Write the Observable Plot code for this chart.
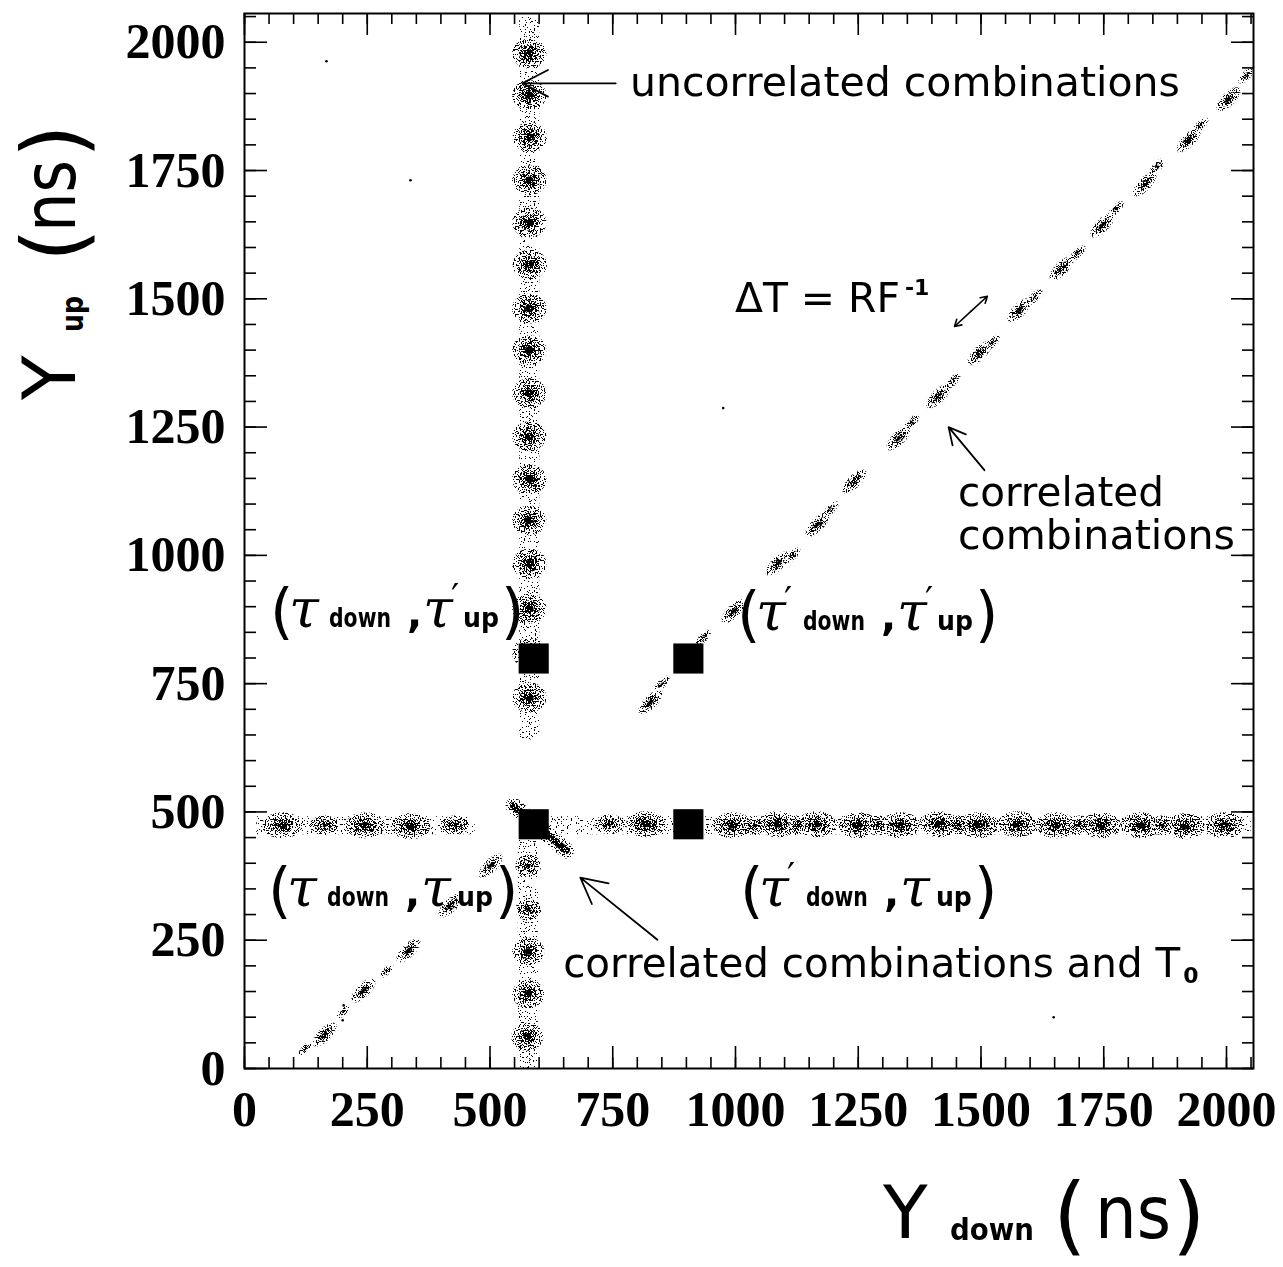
<!DOCTYPE html>
<html><head><meta charset="utf-8">
<script src="https://cdn.jsdelivr.net/npm/d3@7"></script>
<script src="https://cdn.jsdelivr.net/npm/@observablehq/plot@0.6"></script>
<style>body{margin:0;background:#fff}#chart{width:1283px;height:1267px}</style>
</head><body><div id="chart"></div>
<script>
// ---------------- data (ns) ----------------
const xMajor = [0, 250, 500, 750, 1000, 1250, 1500, 1750, 2000];
const yMajor = [0, 250, 500, 750, 1000, 1250, 1500, 1750, 2000];
// uncorrelated combinations: vertical band (tau_down fixed)
const vUpper = [[580,1978],[580,1897],[581,1815],[580,1731],[580,1649],[581,1567],[580,1481],[580,1400],[580,1316],[580,1232],[580,1148],[580,1068],[580,984],[580,896],[580,810],[580,723]];
const vLower = [[578,228],[576,62],[578,145]];
const vLowerWeak = [[578,395],[578,310]];
// uncorrelated combinations: horizontal band (tau_up fixed)
const hBand = [[77,474],[246,474],[338,472],[817,476],[994,474],[1086,476],[1165,476],[1250,474],[1336,474],[1415,476],[1495,474],[1574,476],[1653,474],[1745,474],[1825,474],[1916,472],[1996,474]];
const hBandWeak = [[163,474],[428,474],[743,476],[1040,474],[1125,474],[1290,474],[1455,474],[1700,474],[1870,474]];
// correlated combinations (diagonals)
const diagUpper = [[827,714],[906,806],[996,891],[1086,984],[1167,1060],[1242,1144],[1332,1228],[1413,1310],[1497,1394],[1578,1478],[1664,1559],[1747,1643],[1833,1723],[1923,1809],[2004,1889]];
const diagUpperWeak = [[850,750],[935,840],[1116,1000],[1194,1090],[1358,1259],[1442,1339],[1523,1415],[1609,1503],[1697,1589],[1775,1675],[1859,1758],[1947,1838],[2040,1935]];
const diagLower = [[163,66],[242,152],[334,230],[420,318],[501,395]];
const diagLowerWeak = [[124,39],[200,110],[290,190]];
// correlated combinations and T0 streak
const t0Streak = [{x1:548, y1:512, x2:655, y2:425}];
const strays = [[167,1963],[338,1731],[975,1287],[1648,100],[200,94],[202,123]];
// sparse background of the bands
const vBandSeg = [{x:580, y1:640, y2:2050},{x:577, y1:0, y2:450}];
const hBandSeg = [{y:474, x1:25, x2:470},{y:474, x1:600, x2:2050}];
// mean times (black squares)
const tauDown = 589, tauDownP = 904, tauUp = 476, tauUpP = 799;
const squares = [[tauDown,tauUpP],[tauDownP,tauUpP],[tauDown,tauUp],[tauDownP,tauUp]];
// arrows
const arrows = [
  {x1:756, y1:1920, x2:566, y2:1920},
  {x1:1507, y1:1166, x2:1434, y2:1250},
  {x1:841, y1:251, x2:684, y2:372}
];
const dblArrow = [{x1:1480, y1:1476, x2:1446, y2:1446},{x1:1480, y1:1476, x2:1513, y2:1505}];

// ---------------- layout ----------------
const W = 1283, H = 1267, mL = 244, mR = 30, mT = 13, mB = 199;
const xDomain = [0, 2055], yDomain = [0, 2056];
const fw = W - mL - mR, fh = H - mT - mB;
const xMinor = d3.range(0, 2051, 50), yMinor = d3.range(0, 2051, 50);

function ellipse(aspect, angleDeg) {
  const th = angleDeg * Math.PI / 180, c = Math.cos(th), s = Math.sin(th);
  return {draw(ctx, size) {
    const r = Math.sqrt(size / Math.PI), a = r * Math.sqrt(aspect), b = r / Math.sqrt(aspect);
    for (let i = 0; i < 32; i++) {
      const t = i / 32 * 2 * Math.PI, ex = a * Math.cos(t), ey = b * Math.sin(t);
      const x = ex * c - ey * s, y = ex * s + ey * c;
      i ? ctx.lineTo(x, y) : ctx.moveTo(x, y);
    }
    ctx.closePath();
  }};
}
const symV = ellipse(1.15, 0), symH = ellipse(1.5, 0), symD = ellipse(2.4, -45), symDc = ellipse(2.8, -45);
const P = {x: d => d[0], y: d => d[1], fill: "#000"};
function cluster(data, sym, symCore, rs) {
  return [
    Plot.dot(data, {...P, symbol: sym, r: rs[0], ariaDescription: "spk-sparse"}),
    Plot.dot(data, {...P, symbol: sym, r: rs[1], ariaDescription: "spk-medium"}),
    Plot.dot(data, {...P, symbol: symCore, r: rs[2], ariaDescription: "spk-dense"})
  ];
}

const plot = Plot.plot({
  width: W, height: H, marginLeft: mL, marginRight: mR, marginTop: mT, marginBottom: mB,
  x: {domain: xDomain}, y: {domain: yDomain},
  style: {background: "#fff", overflow: "visible"},
  marks: [
    // band backgrounds
    Plot.ruleX(vBandSeg, {x: "x", y1: "y1", y2: "y2", stroke: "#000", strokeWidth: 20, ariaDescription: "spk-band"}),
    Plot.ruleY(hBandSeg, {y: "y", x1: "x1", x2: "x2", stroke: "#000", strokeWidth: 18, ariaDescription: "spk-band"}),
    // clusters
    ...cluster(vUpper, symV, symV, [16, 9, 4]),
    ...cluster(vLower, symV, symV, [15, 8, 3.5]),
    ...cluster(vLowerWeak, symV, symV, [12, 6, 2]),
    ...cluster(hBand, symH, symH, [16, 9, 4]),
    ...cluster(hBandWeak, symH, symH, [12, 6, 2]),
    ...cluster(diagUpper, symD, symDc, [10, 6, 3]),
    ...cluster(diagUpperWeak, symD, symDc, [6.5, 3.5, 1.2]),
    ...cluster(diagLower, symD, symDc, [10, 6, 3]),
    ...cluster(diagLowerWeak, symD, symDc, [5.5, 3, 1]),
    Plot.link(t0Streak, {x1: "x1", y1: "y1", x2: "x2", y2: "y2", stroke: "#000", strokeWidth: 16, strokeLinecap: "round", ariaDescription: "spk-sparse"}),
    Plot.link(t0Streak, {x1: "x1", y1: "y1", x2: "x2", y2: "y2", stroke: "#000", strokeWidth: 7, strokeLinecap: "round", ariaDescription: "spk-dense"}),
    Plot.dot(strays, {...P, r: 1.3}),
    // mean-time squares
    Plot.dot(squares, {...P, symbol: "square", r: 17}),
    // arrows
    Plot.arrow(arrows, {x1: "x1", y1: "y1", x2: "x2", y2: "y2", stroke: "#000", strokeWidth: 1.8, headLength: 24, headAngle: 55}),
    Plot.arrow(dblArrow, {x1: "x1", y1: "y1", x2: "x2", y2: "y2", stroke: "#000", strokeWidth: 1.6, headLength: 12, headAngle: 60}),
    // inward ticks on all four sides
    Plot.ruleX(xMinor, {x: d => d, insetTop: fh - 11, stroke: "#000", strokeWidth: 1.6}),
    Plot.ruleX(xMinor, {x: d => d, insetBottom: fh - 11, stroke: "#000", strokeWidth: 1.6}),
    Plot.ruleX(xMajor, {x: d => d, insetTop: fh - 22, stroke: "#000", strokeWidth: 1.6}),
    Plot.ruleX(xMajor, {x: d => d, insetBottom: fh - 22, stroke: "#000", strokeWidth: 1.6}),
    Plot.ruleY(yMinor, {y: d => d, insetRight: fw - 12, stroke: "#000", strokeWidth: 1.6}),
    Plot.ruleY(yMinor, {y: d => d, insetLeft: fw - 11, stroke: "#000", strokeWidth: 1.6}),
    Plot.ruleY(yMajor, {y: d => d, insetRight: fw - 23, stroke: "#000", strokeWidth: 1.6}),
    Plot.ruleY(yMajor, {y: d => d, insetLeft: fw - 22, stroke: "#000", strokeWidth: 1.6}),
    Plot.frame({stroke: "#000", strokeWidth: 2}),
    // tick labels
    Plot.axisX(xMajor, {anchor: "bottom", tickSize: 0, tickPadding: 22, label: null, tickFormat: d => String(d), fontSize: 50, fontWeight: "bold", fontFamily: "'Liberation Serif', serif", fill: "#000"}),
    Plot.axisY(yMajor, {anchor: "left", tickSize: 0, tickPadding: 19, label: null, tickFormat: d => String(d), fontSize: 50, fontWeight: "bold", fontFamily: "'Liberation Serif', serif", fill: "#000"})
  ]
});
document.getElementById("chart").appendChild(plot);

// ---------------- speckle filters (scanned-stipple look) ----------------
const svg = d3.select(plot);
const defs = svg.insert("defs", ":first-child");
function speckle(id, seed, threshold40) {
  const f = defs.append("filter").attr("id", id).attr("color-interpolation-filters", "sRGB")
    .attr("filterUnits", "userSpaceOnUse")
    .attr("x", 0).attr("y", 0).attr("width", W).attr("height", H);
  f.append("feTurbulence").attr("type", "fractalNoise").attr("baseFrequency", 0.8).attr("numOctaves", 1).attr("seed", seed).attr("result", "n");
  const tv = d3.range(40).map(i => i < threshold40 ? 0 : 1).join(" ");
  f.append("feComponentTransfer").attr("in", "n").attr("result", "m").append("feFuncA").attr("type", "discrete").attr("tableValues", tv);
  f.append("feComposite").attr("in", "SourceGraphic").attr("in2", "m").attr("operator", "in");
}
speckle("spk-band", 11, 26);
speckle("spk-sparse", 3, 23);
speckle("spk-medium", 7, 21);
speckle("spk-dense", 5, 16);
svg.selectAll("g[aria-description]").each(function() {
  const id = this.getAttribute("aria-description");
  if (id && id.startsWith("spk")) this.setAttribute("filter", `url(#${id})`);
});

// ---------------- annotations ----------------
const X = d3.scaleLinear().domain(xDomain).range([mL, W - mR]);
const Y = d3.scaleLinear().domain(yDomain).range([H - mB, mT]);
const SANS = "'DejaVu Sans', sans-serif", SERIF = "'DejaVu Serif', serif";
function txt(parent, x, y, s, o = {}) {
  const t = parent.append("text").attr("x", x).attr("y", y).text(s)
    .attr("text-anchor", o.anchor || "start")
    .attr("font-family", o.family || SANS).attr("font-size", o.size || 40)
    .attr("font-weight", o.weight || "normal").attr("font-style", o.style || "normal").attr("fill", "#000");
  if (o.len) t.attr("textLength", o.len).attr("lengthAdjust", "spacingAndGlyphs");
  return t;
}
const notes = [
  {x: 786, y: 1895, s: "uncorrelated combinations", len: 550},
  {x: 1454, y: 1096, s: "correlated", len: 206},
  {x: 1454, y: 1012, s: "combinations", len: 277},
  {x: 650, y: 177, s: "correlated combinations and T", len: 617},
  {x: 1000, y: 1474, s: "\u0394T = RF", len: 165}
];
notes.forEach(n => txt(svg, X(n.x), Y(n.y), n.s, {len: n.len}));
txt(svg, X(650) + 620, Y(177) + 6, "0", {size: 22, weight: "bold"});
txt(svg, X(1000) + 170, Y(1474) - 17, "-1", {size: 22, weight: "bold"});

// (tau, tau) labels
function tauLabel(xd, yd, prime1, prime2, sub2) {
  const x0 = X(xd), y0 = Y(yd);
  txt(svg, x0, y0 + 5, "(", {size: 60});
  txt(svg, x0 + 19, y0, "\u03C4", {family: SERIF, style: "italic", size: 54});
  if (prime1) txt(svg, x0 + 47, y0 - 18, "\u2032", {family: SERIF, size: 36});
  const dx = prime1 ? x0 + 66 : x0 + 59;
  txt(svg, dx, y0, "down", {size: 26, weight: "bold", len: 62});
  txt(svg, dx + 78, y0, ",", {size: 40, weight: "bold"});
  const t2 = dx + 94;
  txt(svg, t2, y0, "\u03C4", {family: SERIF, style: "italic", size: 54});
  if (prime2) txt(svg, t2 + 28, y0 - 18, "\u2032", {family: SERIF, size: 36});
  const ux = prime2 ? t2 + 40 : t2 + 36;
  txt(svg, ux, y0, sub2, {size: 26, weight: "bold", len: 36});
  txt(svg, ux + 38, y0 + 5, ")", {size: 60});
}
tauLabel(53, 860, false, true, "up");
tauLabel(1004, 854, true, true, "up");
tauLabel(49, 316, false, false, "up");
tauLabel(1010, 316, true, false, "up");

// axis titles
txt(svg, 883, 1238, "Y", {size: 73});
txt(svg, 950, 1240, "down", {size: 30, weight: "bold", len: 84});
txt(svg, 1053, 1244, "(", {size: 86});
txt(svg, 1095, 1238, "ns", {size: 73, len: 76});
txt(svg, 1172, 1244, ")", {size: 86});
const gy = svg.append("g").attr("transform", "translate(75,400) rotate(-90)");
txt(gy, 0, 0, "Y", {size: 73});
txt(gy, 68, 8, "up", {size: 30, weight: "bold", len: 36});
txt(gy, 138, 8, "(", {size: 86});
txt(gy, 168, 0, "ns", {size: 73, len: 72});
txt(gy, 242, 8, ")", {size: 86});
</script>
</body></html>
